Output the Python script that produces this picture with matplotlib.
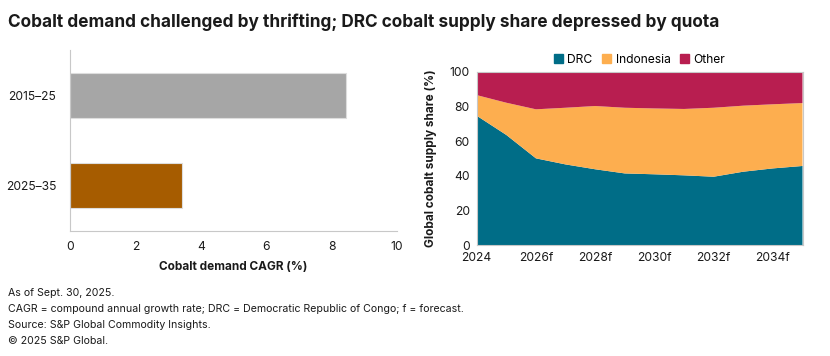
import numpy as np
import matplotlib
matplotlib.use("Agg")
import matplotlib.pyplot as plt
from matplotlib.patches import Patch

plt.rcParams["font.family"] = ["Inter", "DejaVu Sans"]

# left panel: demand CAGR
periods = ["2015\u201325", "2025\u201335"]
cagr = [8.45, 3.43]
bar_colors = ["#a6a6a6", "#a65c00"]

# right panel: supply share (%)
years = list(range(2024, 2036))
drc = [74.6, 63.5, 50.0, 46.5, 43.7, 41.3, 40.8, 40.2, 39.4, 42.3, 44.2, 45.6]
drc_indo_top = [86.5, 82.1, 78.3, 79.2, 80.2, 79.2, 78.8, 78.5, 79.2, 80.4, 81.2, 81.9]
indonesia = [t - d for t, d in zip(drc_indo_top, drc)]
other = [100 - t for t in drc_indo_top]
series_names = ["DRC", "Indonesia", "Other"]
series_colors = ["#006d87", "#fdae4f", "#b81e50"]
xtick_years = [2024, 2026, 2028, 2030, 2032, 2034]
xtick_labels = ["2024", "2026f", "2028f", "2030f", "2032f", "2034f"]

title = "Cobalt demand challenged by thrifting; DRC cobalt supply share depressed by quota"
notes = ["As of Sept. 30, 2025.",
         "CAGR = compound annual growth rate; DRC = Democratic Republic of Congo; f = forecast.",
         "Source: S&P Global Commodity Insights.",
         "\u00a9 2025 S&P Global."]

W, H = 830, 356
fig = plt.figure(figsize=(W / 100, H / 100), dpi=100)
spine_c = "#c8c8c8"
txt_c = "#1a1a1a"

# ---- left bars
ax1 = fig.add_axes([70 / W, 1 - 231 / H, 327 / W, 181 / H])
ax1.barh(range(len(periods)), cagr, height=0.5, color=bar_colors,
         edgecolor="#dddddd", linewidth=0.8)
ax1.set_ylim(1.5, -0.5)
ax1.set_xlim(0, 10)
ax1.set_xticks(range(0, 11, 2))
ax1.set_yticks(range(len(periods)))
ax1.set_yticklabels(periods)
for s in ["top", "right"]:
    ax1.spines[s].set_visible(False)
for s in ["left", "bottom"]:
    ax1.spines[s].set_color(spine_c)
ax1.tick_params(length=0, labelsize=8.7, colors=txt_c, pad=7)
ax1.tick_params(axis="y", pad=10)
ax1.set_xlabel("Cobalt demand CAGR (%)", fontsize=8.5, fontweight="bold", color=txt_c, labelpad=6)

# ---- right stacked area
ax2 = fig.add_axes([476.7 / W, 1 - 245 / H, 325.8 / W, 173.3 / H])
ax2.stackplot(years, drc, indonesia, other, colors=series_colors, linewidth=0)
ax2.set_xlim(2024, 2035)
ax2.set_ylim(0, 100)
ax2.set_yticks(range(0, 101, 20))
ax2.set_xticks(xtick_years)
ax2.set_xticklabels(xtick_labels)
for s in ax2.spines.values():
    s.set_color(spine_c)
ax2.tick_params(length=0, labelsize=8.7, colors=txt_c, pad=5)
ax2.set_ylabel("Global cobalt supply share (%)", fontsize=8.5, fontweight="bold", color=txt_c, labelpad=9)
handles = [Patch(color=c) for c in series_colors]
ax2.legend(handles, series_names, loc="lower center", bbox_to_anchor=(0.5, 1.0), ncol=3,
           frameon=False, fontsize=8.7, handlelength=0.7, handleheight=0.7,
           handletextpad=0.4, columnspacing=0.8, borderaxespad=0.1)

fig.text(8 / W, 1 - 22 / H, title, fontsize=12.4, fontweight="bold", color=txt_c, va="center")
for i, n in enumerate(notes):
    fig.text(8 / W, 1 - (293 + 16 * i) / H, n, fontsize=7.6, color=txt_c, va="center")

fig.savefig("out.png", dpi=100)
